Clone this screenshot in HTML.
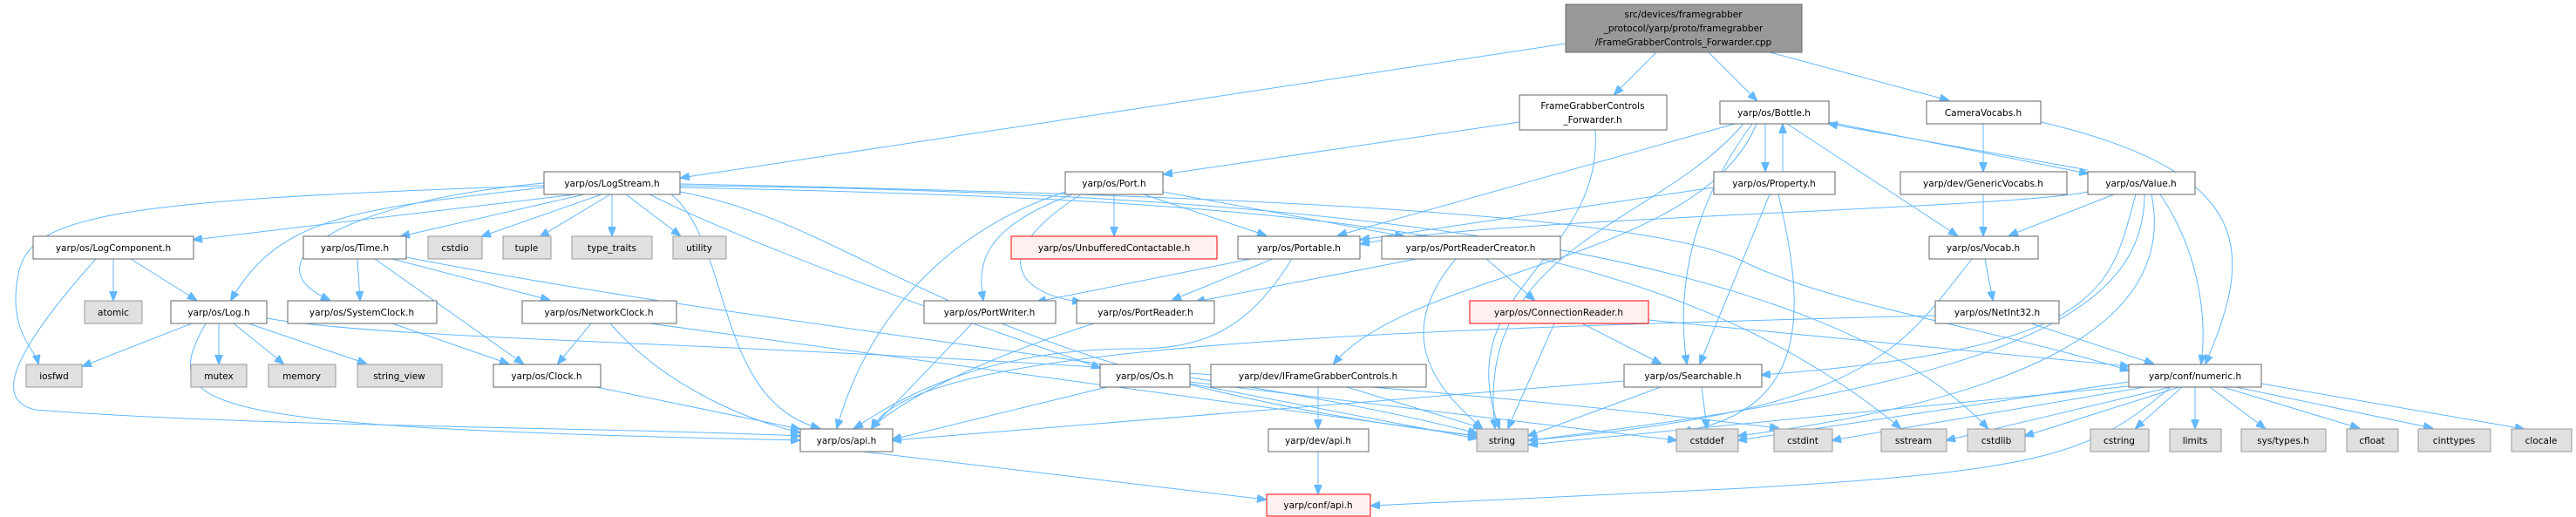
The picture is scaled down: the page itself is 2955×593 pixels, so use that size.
<!DOCTYPE html>
<html><head><meta charset="utf-8"><style>
html,body{margin:0;padding:0;background:#fff}
svg{display:block}
text{font-family:"DejaVu Sans","Liberation Sans",sans-serif;font-size:10.5px;fill:#000;text-anchor:middle}
.n{fill:#fff;stroke:#666;stroke-width:1}
.g{fill:#e0e0e0;stroke:#999;stroke-width:1}
.r{fill:#fff0f0;stroke:#f00;stroke-width:1}
.t{fill:#999;stroke:#666;stroke-width:1}
path{fill:none;stroke:#63b8ff;stroke-width:1}
</style></head><body>
<svg width="2955" height="593" viewBox="0 0 2955 593" xmlns="http://www.w3.org/2000/svg">
<defs><marker id="a" markerWidth="11" markerHeight="9" refX="10" refY="4.5" orient="auto" markerUnits="userSpaceOnUse"><polygon points="0,0 11,4.5 0,9" fill="#63b8ff" stroke="#63b8ff"/></marker></defs>
<g marker-end="url(#a)">
<path d="M1796 50 L781 204"/>
<path d="M1900 60 L1852 108"/>
<path d="M1960 60 L2015 115"/>
<path d="M2030 60 L2235 115"/>
<path d="M1743 140 L1335 200"/>
<path d="M1830 149 C1840 300 1660 330 1720 491"/>
<path d="M2025 142 L2025 196"/>
<path d="M2045 197 L2045 143"/>
<path d="M2098 140 L2395 199"/>
<path d="M2395 195 L2098 142"/>
<path d="M2050 142 L2245 270"/>
<path d="M1990 142 L1535 270"/>
<path d="M2010 142 C1930 250 1925 350 1935 417"/>
<path d="M2000 142 C1900 260 1690 280 1715 491"/>
<path d="M2015 142 C1950 300 1620 310 1530 417"/>
<path d="M1966 215 L1561 275"/>
<path d="M2030 223 L1950 417"/>
<path d="M2040 223 C2070 350 2080 470 1930 495"/>
<path d="M2395 220 C2300 240 1700 250 1561 280"/>
<path d="M2425 223 L2305 270"/>
<path d="M2478 223 C2530 300 2530 380 2525 417"/>
<path d="M2450 223 C2420 330 2420 400 2021 430"/>
<path d="M2460 223 C2460 360 2300 440 1754 505"/>
<path d="M2468 223 C2500 380 2300 460 1994 500"/>
<path d="M2275 142 L2275 196"/>
<path d="M2341 140 C2600 200 2580 300 2530 417"/>
<path d="M2275 223 L2275 270"/>
<path d="M2277 297 L2286 344"/>
<path d="M2262 297 C2180 400 2150 470 1754 505"/>
<path d="M2330 371 L2470 417"/>
<path d="M2220 362 C1500 380 1050 400 1000 491"/>
<path d="M660 223 L222 275"/>
<path d="M670 223 L460 271"/>
<path d="M690 223 L553 271"/>
<path d="M700 223 L620 271"/>
<path d="M702 223 L702 270"/>
<path d="M718 223 L780 270"/>
<path d="M624 215 C400 240 320 250 265 344"/>
<path d="M624 210 C400 230 280 300 378 344"/>
<path d="M624 213 C100 230 30 250 20 320 C10 380 40 400 44 417"/>
<path d="M770 223 C840 280 820 460 940 491"/>
<path d="M745 223 C900 300 1200 400 1262 422"/>
<path d="M780 220 C1000 260 1100 430 1694 500"/>
<path d="M780 215 C1500 230 1900 260 2180 491"/>
<path d="M780 213 C1600 220 2100 300 2280 491"/>
<path d="M780 211 C1500 225 1900 250 2000 300 C2100 350 2300 380 2442 425"/>
<path d="M130 297 L130 344"/>
<path d="M150 297 L225 344"/>
<path d="M110 297 C0 420 0 460 40 470 C300 490 700 490 917 500"/>
<path d="M220 371 L95 420"/>
<path d="M251 371 L251 417"/>
<path d="M268 371 L325 417"/>
<path d="M285 371 L420 417"/>
<path d="M236 371 C180 470 220 490 917 505"/>
<path d="M306 365 C500 400 1200 390 2040 491"/>
<path d="M410 297 L413 344"/>
<path d="M430 297 L600 417"/>
<path d="M450 297 L630 344"/>
<path d="M466 295 C900 380 1400 420 1694 497"/>
<path d="M450 371 L583 417"/>
<path d="M678 371 L640 417"/>
<path d="M700 371 C760 440 850 480 917 496"/>
<path d="M745 371 L1694 500"/>
<path d="M684 444 L917 492"/>
<path d="M1278 223 L1278 270"/>
<path d="M1312 223 L1452 270"/>
<path d="M1334 220 L1610 271"/>
<path d="M1230 223 C1130 260 1120 300 1128 344"/>
<path d="M1240 223 C1120 300 1180 340 1240 346"/>
<path d="M1222 220 C1100 260 1000 350 960 491"/>
<path d="M1435 297 L1190 346"/>
<path d="M1460 297 L1345 344"/>
<path d="M1482 297 C1430 380 1380 400 1300 400 C1100 400 1000 480 980 491"/>
<path d="M1625 297 L1372 346"/>
<path d="M1705 297 L1760 344"/>
<path d="M1670 297 C1600 380 1640 440 1700 491"/>
<path d="M1815 371 L1905 417"/>
<path d="M1783 371 L1730 491"/>
<path d="M1891 367 L2442 420"/>
<path d="M1115 371 L1000 491"/>
<path d="M1255 371 C1100 420 1020 470 1000 491"/>
<path d="M1270 444 L1024 504"/>
<path d="M1365 440 L1694 503"/>
<path d="M1365 438 L1923 505"/>
<path d="M1512 444 L1512 491"/>
<path d="M1545 444 L1700 491"/>
<path d="M1863 437 L1024 505"/>
<path d="M1905 444 L1753 500"/>
<path d="M1952 444 L1958 491"/>
<path d="M2442 438 L1994 505"/>
<path d="M2460 444 L2102 505"/>
<path d="M2490 444 L2233 505"/>
<path d="M2500 444 L2323 500"/>
<path d="M2503 444 L2450 491"/>
<path d="M2518 444 L2518 491"/>
<path d="M2535 444 L2598 491"/>
<path d="M2550 444 L2706 491"/>
<path d="M2565 444 L2790 491"/>
<path d="M2594 440 L2895 492"/>
<path d="M2442 443 L1754 510"/>
<path d="M2490 444 C2400 520 2350 540 2000 560 L1573 580"/>
<path d="M1512 518 L1512 566"/>
<path d="M990 518 L1452 573"/>
</g>
<rect class="t" x="1796" y="5" width="271" height="55"/>
<text x="1931" y="20">src/devices/framegrabber</text>
<text x="1931" y="36">_protocol/yarp/proto/framegrabber</text>
<text x="1931" y="52">/FrameGrabberControls_Forwarder.cpp</text>
<rect class="n" x="1743" y="109" width="169" height="40"/><text x="1827" y="125">FrameGrabberControls</text><text x="1827" y="141">_Forwarder.h</text>
<rect class="n" x="1973" y="116" width="125" height="26"/><text x="2035" y="133">yarp/os/Bottle.h</text>
<rect class="n" x="2210" y="116" width="131" height="26"/><text x="2275" y="133">CameraVocabs.h</text>
<rect class="n" x="624" y="197" width="156" height="26"/><text x="702" y="214">yarp/os/LogStream.h</text>
<rect class="n" x="1222" y="197" width="112" height="26"/><text x="1278" y="214">yarp/os/Port.h</text>
<rect class="n" x="1966" y="197" width="139" height="26"/><text x="2035" y="214">yarp/os/Property.h</text>
<rect class="n" x="2180" y="197" width="191" height="26"/><text x="2275" y="214">yarp/dev/GenericVocabs.h</text>
<rect class="n" x="2395" y="197" width="123" height="26"/><text x="2456" y="214">yarp/os/Value.h</text>
<rect class="n" x="38" y="271" width="184" height="26"/><text x="130" y="288">yarp/os/LogComponent.h</text>
<rect class="n" x="348" y="271" width="118" height="26"/><text x="407" y="288">yarp/os/Time.h</text>
<rect class="g" x="491" y="271" width="62" height="26"/><text x="522" y="288">cstdio</text>
<rect class="g" x="577" y="271" width="55" height="26"/><text x="604" y="288">tuple</text>
<rect class="g" x="656" y="271" width="92" height="26"/><text x="702" y="288">type_traits</text>
<rect class="g" x="772" y="271" width="61" height="26"/><text x="802" y="288">utility</text>
<rect class="r" x="1160" y="271" width="236" height="26"/><text x="1278" y="288">yarp/os/UnbufferedContactable.h</text>
<rect class="n" x="1420" y="271" width="140" height="26"/><text x="1490" y="288">yarp/os/Portable.h</text>
<rect class="n" x="1585" y="271" width="205" height="26"/><text x="1687" y="288">yarp/os/PortReaderCreator.h</text>
<rect class="n" x="2213" y="271" width="125" height="26"/><text x="2275" y="288">yarp/os/Vocab.h</text>
<rect class="g" x="97" y="345" width="66" height="26"/><text x="130" y="362">atomic</text>
<rect class="n" x="196" y="345" width="110" height="26"/><text x="251" y="362">yarp/os/Log.h</text>
<rect class="n" x="330" y="345" width="171" height="26"/><text x="415" y="362">yarp/os/SystemClock.h</text>
<rect class="n" x="599" y="345" width="177" height="26"/><text x="687" y="362">yarp/os/NetworkClock.h</text>
<rect class="n" x="1060" y="345" width="151" height="26"/><text x="1135" y="362">yarp/os/PortWriter.h</text>
<rect class="n" x="1235" y="345" width="158" height="26"/><text x="1314" y="362">yarp/os/PortReader.h</text>
<rect class="r" x="1686" y="345" width="205" height="26"/><text x="1788" y="362">yarp/os/ConnectionReader.h</text>
<rect class="n" x="2220" y="345" width="142" height="26"/><text x="2291" y="362">yarp/os/NetInt32.h</text>
<rect class="g" x="30" y="418" width="64" height="26"/><text x="62" y="435">iosfwd</text>
<rect class="g" x="219" y="418" width="64" height="26"/><text x="251" y="435">mutex</text>
<rect class="g" x="308" y="418" width="77" height="26"/><text x="346" y="435">memory</text>
<rect class="g" x="410" y="418" width="97" height="26"/><text x="458" y="435">string_view</text>
<rect class="n" x="566" y="418" width="123" height="26"/><text x="627" y="435">yarp/os/Clock.h</text>
<rect class="n" x="1262" y="418" width="103" height="26"/><text x="1313" y="435">yarp/os/Os.h</text>
<rect class="n" x="1389" y="418" width="247" height="26"/><text x="1512" y="435">yarp/dev/IFrameGrabberControls.h</text>
<rect class="n" x="1863" y="418" width="158" height="26"/><text x="1942" y="435">yarp/os/Searchable.h</text>
<rect class="n" x="2442" y="418" width="152" height="26"/><text x="2518" y="435">yarp/conf/numeric.h</text>
<rect class="n" x="918" y="492" width="106" height="26"/><text x="971" y="509">yarp/os/api.h</text>
<rect class="n" x="1455" y="492" width="115" height="26"/><text x="1512" y="509">yarp/dev/api.h</text>
<rect class="g" x="1694" y="492" width="59" height="26"/><text x="1723" y="509">string</text>
<rect class="g" x="1923" y="492" width="71" height="26"/><text x="1958" y="509">cstddef</text>
<rect class="g" x="2035" y="492" width="67" height="26"/><text x="2068" y="509">cstdint</text>
<rect class="g" x="2158" y="492" width="75" height="26"/><text x="2195" y="509">sstream</text>
<rect class="g" x="2257" y="492" width="66" height="26"/><text x="2290" y="509">cstdlib</text>
<rect class="g" x="2398" y="492" width="67" height="26"/><text x="2431" y="509">cstring</text>
<rect class="g" x="2489" y="492" width="59" height="26"/><text x="2518" y="509">limits</text>
<rect class="g" x="2571" y="492" width="97" height="26"/><text x="2619" y="509">sys/types.h</text>
<rect class="g" x="2692" y="492" width="59" height="26"/><text x="2721" y="509">cfloat</text>
<rect class="g" x="2774" y="492" width="83" height="26"/><text x="2815" y="509">cinttypes</text>
<rect class="g" x="2881" y="492" width="69" height="26"/><text x="2915" y="509">clocale</text>
<rect class="r" x="1453" y="567" width="119" height="25"/><text x="1512" y="583">yarp/conf/api.h</text>
</svg>
</body></html>
